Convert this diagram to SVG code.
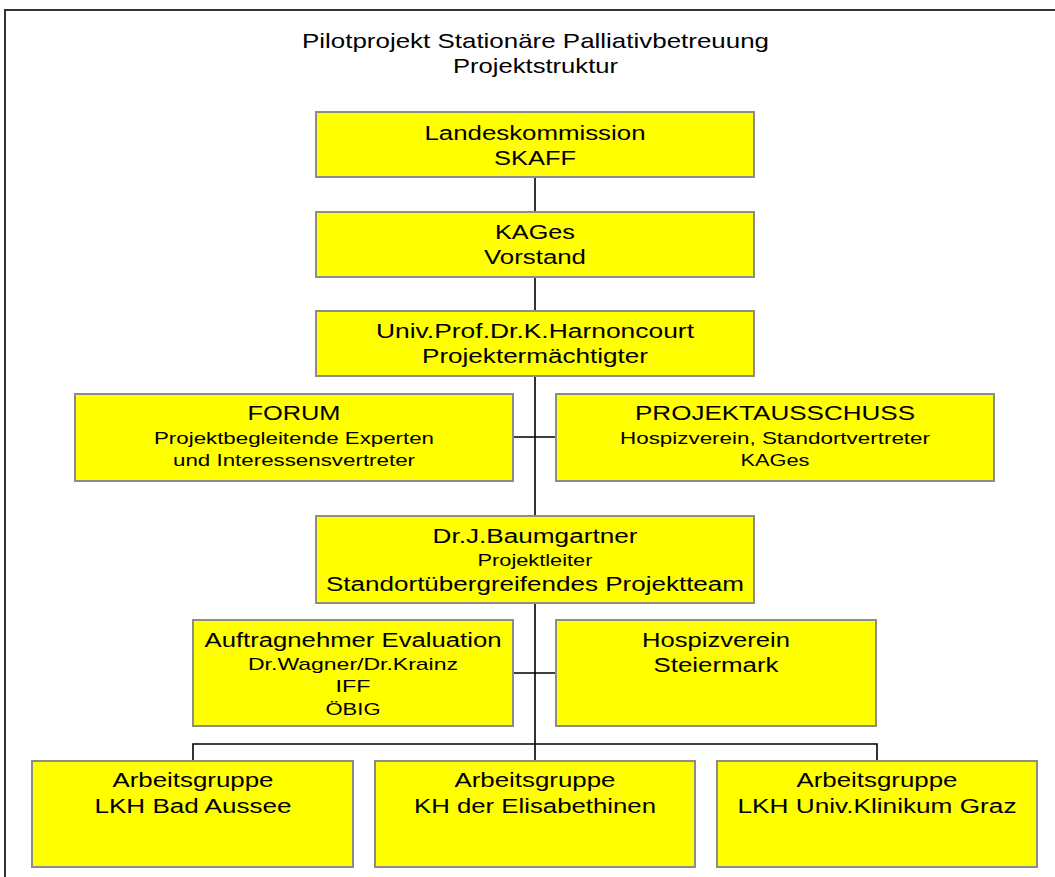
<svg xmlns="http://www.w3.org/2000/svg" width="1055" height="877" viewBox="0 0 1055 877">
<style>
.box{fill:#FFFF00;stroke:#8c8c8c;stroke-width:2}
.t{font-family:"Liberation Sans",Arial,sans-serif;font-size:20px;fill:#000;text-anchor:middle}
.s{font-size:17px}
.h{font-size:21px}
.c{stroke:#000;stroke-width:1.6;fill:none}
</style>
<rect width="1055" height="877" fill="#fff"/>
<rect x="5" y="10" width="1100" height="900" fill="none" stroke="#333" stroke-width="2"/>
<g id="title">
<text class="t h" x="535.5" y="48" textLength="467" lengthAdjust="spacingAndGlyphs">Pilotprojekt Stationäre Palliativbetreuung</text>
<text class="t h" x="535.5" y="73" textLength="165" lengthAdjust="spacingAndGlyphs">Projektstruktur</text>
</g>
<g id="connectors">
<path class="c" d="M535 177V212M535 277V311M535 376V516M535 603V744M513 437H556M513 673H556M193 761V744H877V761M535 744V761"/>
</g>
<g id="n1">
<rect class="box" x="316" y="112" width="438" height="65"/>
<text class="t" x="535" y="140" textLength="221" lengthAdjust="spacingAndGlyphs">Landeskommission</text>
<text class="t" x="535" y="165" textLength="82" lengthAdjust="spacingAndGlyphs">SKAFF</text>
</g>
<g id="n2">
<rect class="box" x="316" y="212" width="438" height="65"/>
<text class="t" x="535" y="239" textLength="80" lengthAdjust="spacingAndGlyphs">KAGes</text>
<text class="t" x="535" y="264" textLength="102" lengthAdjust="spacingAndGlyphs">Vorstand</text>
</g>
<g id="n3">
<rect class="box" x="316" y="311" width="438" height="65"/>
<text class="t" x="535" y="338" textLength="318" lengthAdjust="spacingAndGlyphs">Univ.Prof.Dr.K.Harnoncourt</text>
<text class="t" x="535" y="363" textLength="226" lengthAdjust="spacingAndGlyphs">Projektermächtigter</text>
</g>
<g id="forum">
<rect class="box" x="75" y="394" width="438" height="87"/>
<text class="t" x="294" y="420" textLength="93" lengthAdjust="spacingAndGlyphs">FORUM</text>
<text class="t s" x="294" y="444" textLength="280" lengthAdjust="spacingAndGlyphs">Projektbegleitende Experten</text>
<text class="t s" x="294" y="466" textLength="242" lengthAdjust="spacingAndGlyphs">und Interessensvertreter</text>
</g>
<g id="projektausschuss">
<rect class="box" x="556" y="394" width="438" height="87"/>
<text class="t" x="775" y="420" textLength="280" lengthAdjust="spacingAndGlyphs">PROJEKTAUSSCHUSS</text>
<text class="t s" x="775" y="444" textLength="310" lengthAdjust="spacingAndGlyphs">Hospizverein, Standortvertreter</text>
<text class="t s" x="775" y="466" textLength="69" lengthAdjust="spacingAndGlyphs">KAGes</text>
</g>
<g id="projektleiter">
<rect class="box" x="316" y="516" width="438" height="87"/>
<text class="t" x="535" y="543" textLength="205" lengthAdjust="spacingAndGlyphs">Dr.J.Baumgartner</text>
<text class="t s" x="535" y="566" textLength="115" lengthAdjust="spacingAndGlyphs">Projektleiter</text>
<text class="t" x="535" y="591" textLength="418" lengthAdjust="spacingAndGlyphs">Standortübergreifendes Projektteam</text>
</g>
<g id="evaluation">
<rect class="box" x="193" y="620" width="320" height="106"/>
<text class="t" x="353" y="647" textLength="297" lengthAdjust="spacingAndGlyphs">Auftragnehmer Evaluation</text>
<text class="t s" x="353" y="670" textLength="210" lengthAdjust="spacingAndGlyphs">Dr.Wagner/Dr.Krainz</text>
<text class="t s" x="353" y="692" textLength="35" lengthAdjust="spacingAndGlyphs">IFF</text>
<text class="t s" x="353" y="715" textLength="55" lengthAdjust="spacingAndGlyphs">ÖBIG</text>
</g>
<g id="hospizverein">
<rect class="box" x="556" y="620" width="320" height="106"/>
<text class="t" x="716" y="647" textLength="148" lengthAdjust="spacingAndGlyphs">Hospizverein</text>
<text class="t" x="716" y="672" textLength="125" lengthAdjust="spacingAndGlyphs">Steiermark</text>
</g>
<g id="ag1">
<rect class="box" x="32" y="761" width="321" height="106"/>
<text class="t" x="193" y="787" textLength="161" lengthAdjust="spacingAndGlyphs">Arbeitsgruppe</text>
<text class="t" x="193" y="813" textLength="197" lengthAdjust="spacingAndGlyphs">LKH Bad Aussee</text>
</g>
<g id="ag2">
<rect class="box" x="375" y="761" width="320" height="106"/>
<text class="t" x="535" y="787" textLength="161" lengthAdjust="spacingAndGlyphs">Arbeitsgruppe</text>
<text class="t" x="535" y="813" textLength="242" lengthAdjust="spacingAndGlyphs">KH der Elisabethinen</text>
</g>
<g id="ag3">
<rect class="box" x="717" y="761" width="320" height="106"/>
<text class="t" x="877" y="787" textLength="161" lengthAdjust="spacingAndGlyphs">Arbeitsgruppe</text>
<text class="t" x="877" y="813" textLength="279" lengthAdjust="spacingAndGlyphs">LKH Univ.Klinikum Graz</text>
</g>
</svg>
